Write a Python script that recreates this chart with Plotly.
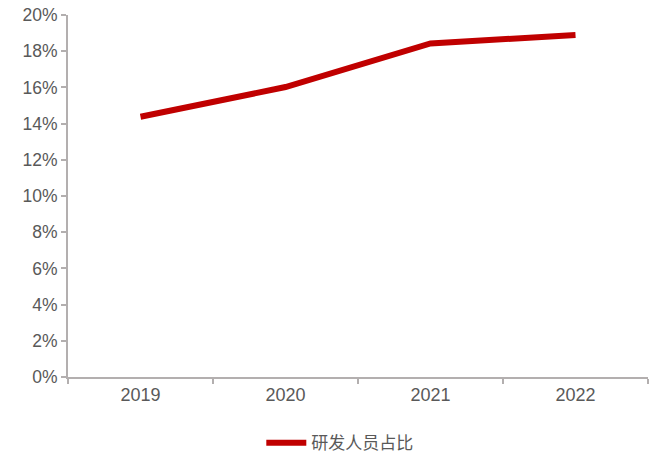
import plotly.graph_objects as go

years = ["2019", "2020", "2021", "2022"]
rd_share = [0.1438, 0.1602, 0.1843, 0.1889]
series_name = "研发人员占比"
y_ticks = [0, 0.02, 0.04, 0.06, 0.08, 0.10, 0.12, 0.14, 0.16, 0.18, 0.20]
y_tick_labels = ["0%", "2%", "4%", "6%", "8%", "10%", "12%", "14%", "16%", "18%", "20%"]

axis_color = "#B3AFAF"
text_color = "#595959"

fig = go.Figure()
fig.add_trace(go.Scatter(
    x=years, y=rd_share, mode="lines", name=series_name,
    line=dict(color="#C00000", width=6),
))

fig.update_layout(
    width=656, height=454,
    margin=dict(l=68, r=8, t=15, b=77),
    plot_bgcolor="white", paper_bgcolor="white",
    font=dict(family="Liberation Sans, Arial, sans-serif", size=18, color=text_color),
    showlegend=True,
    legend=dict(
        orientation="h", x=0.518, xanchor="center", xref="container",
        y=0.024, yanchor="middle", yref="container",
        font=dict(family="Noto Sans CJK SC", size=17, color=text_color),
        itemwidth=40,
    ),
)
fig.update_xaxes(
    type="category", range=[-0.5, 3.5], automargin=False,
    showline=True, linecolor=axis_color, linewidth=2,
    ticks="outside", tickson="boundaries", ticklen=5, tickwidth=2, tickcolor=axis_color,
    showgrid=False, zeroline=False,
    tickfont=dict(size=18, color=text_color),
)
fig.update_yaxes(
    range=[0, 0.20], tickvals=y_ticks, ticktext=y_tick_labels, automargin=False,
    showline=True, linecolor=axis_color, linewidth=2,
    ticks="outside", ticklen=5, tickwidth=2, tickcolor=axis_color,
    showgrid=False, zeroline=False, ticklabeloverflow="allow",
    tickfont=dict(size=17.5, color=text_color),
)

fig.write_html("out.html", config={"displayModeBar": False},
               post_script="document.body.style.margin='0';")
